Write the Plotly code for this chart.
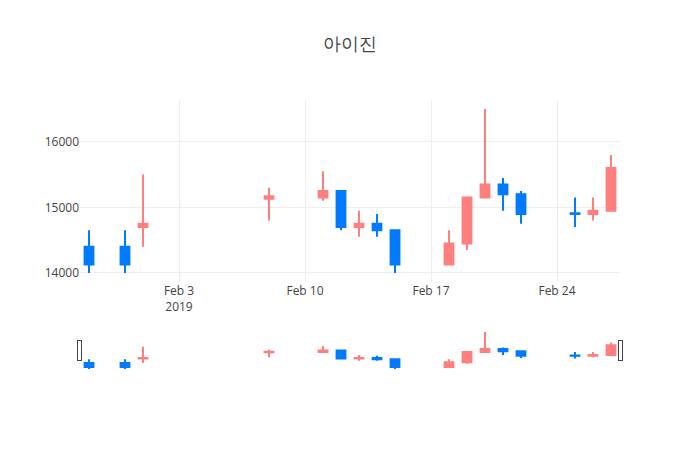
import plotly.graph_objects as go

dates = ["2019-01-29", "2019-01-31", "2019-02-01", "2019-02-08",
         "2019-02-11", "2019-02-12", "2019-02-13", "2019-02-14", "2019-02-15",
         "2019-02-18", "2019-02-19", "2019-02-20", "2019-02-21", "2019-02-22",
         "2019-02-25", "2019-02-26", "2019-02-27"]
open_ = [14400, 14400, 14700, 15130, 15150, 15250, 14700, 14750, 14650,
         14130, 14450, 15150, 15350, 15200, 14910, 14900, 14950]
high = [14650, 14650, 15500, 15300, 15550, 15250, 14950, 14900, 14650,
        14650, 15150, 16500, 15450, 15250, 15150, 15150, 15800]
low = [14000, 14000, 14400, 14800, 15100, 14650, 14550, 14550, 14000,
       14130, 14350, 15150, 14950, 14750, 14700, 14800, 14950]
close = [14130, 14130, 14750, 15170, 15250, 14700, 14750, 14650, 14130,
         14450, 15150, 15350, 15200, 14900, 14900, 14950, 15600]

fig = go.Figure(go.Candlestick(
    x=dates, open=open_, high=high, low=low, close=close,
    increasing=dict(line=dict(color="#FF7F7F"), fillcolor="#FF7F7F"),
    decreasing=dict(line=dict(color="#007AFF"), fillcolor="#007AFF"),
))
fig.update_layout(
    template="none",
    width=700, height=450,
    title=dict(text="아이진", x=0.5, font=dict(size=18)),
    font=dict(color="#444"),
    showlegend=False,
    paper_bgcolor="white", plot_bgcolor="white",
    margin=dict(l=80, r=80, t=100, b=80),
)
fig.update_yaxes(tickformat="d", gridcolor="#eee", zeroline=False)
fig.update_xaxes(gridcolor="#eee", rangeslider=dict(visible=True))
fig.write_html("out.html", config={"displayModeBar": False},
               post_script="document.body.style.margin='0';")
